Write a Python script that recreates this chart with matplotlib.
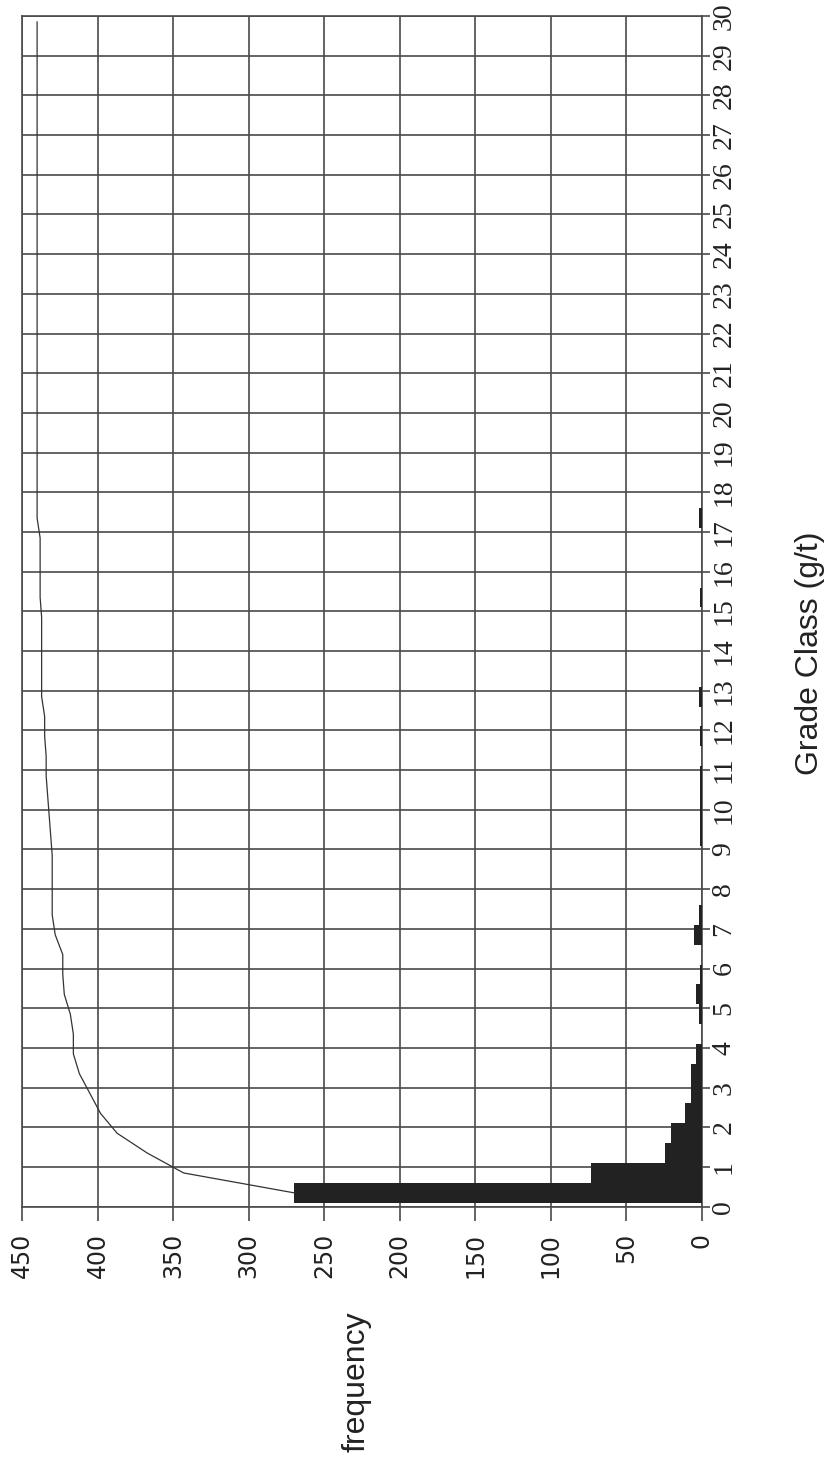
import matplotlib
matplotlib.use("Agg")
import matplotlib.pyplot as plt
import numpy as np

# grade classes are 0.5 g/t wide, starting at 0.1 g/t
bin_start = 0.1
bin_width = 0.5
counts = [270, 73, 24, 20, 11, 7, 7, 4, 0, 2,
          4, 1, 0, 5, 2, 0, 0, 0, 1, 1,
          1, 1, 0, 1, 0, 2, 0, 0, 0, 0,
          1, 0, 0, 0, 2, 0, 0, 0, 0, 0,
          0, 0, 0, 0, 0, 0, 0, 0, 0, 0,
          0, 0, 0, 0, 0, 0, 0, 0, 0, 0]
grade_ticks = list(range(0, 31))
freq_ticks = list(range(0, 451, 50))

GRID = "#4a4a4a"
BAR = "#222222"

edges = bin_start + bin_width * np.arange(len(counts))
centers = edges + bin_width / 2
cumulative = np.cumsum(counts)

fig = plt.figure(figsize=(8.31, 14.65), dpi=100)
ax = fig.add_axes([0.02647, 0.17632, 0.81792, 0.81276])

ax.barh(edges, counts, height=bin_width, align="edge", color=BAR,
        edgecolor="none", zorder=3)
ax.plot(cumulative, centers, color="#333333", lw=0.9, zorder=4, clip_on=True)

ax.set_xlim(450, 0)
ax.set_ylim(0, 30)
ax.set_xticks(freq_ticks)
ax.set_yticks(grade_ticks)
ax.grid(True, color=GRID, lw=1.2, zorder=0)
for s in ax.spines.values():
    s.set_color(GRID)
    s.set_linewidth(1.2)

ax.yaxis.tick_right()
ax.tick_params(axis="y", direction="out", length=6, width=1.2, color=GRID, pad=1)
ax.tick_params(axis="x", direction="out", length=10.3, width=1.2, color=GRID, pad=8.6)
ax.set_xticklabels([str(v) for v in freq_ticks], rotation=90,
                   fontsize=17, family="DejaVu Sans", color="#222222")
ax.set_yticklabels([str(v) for v in grade_ticks], rotation=90,
                   fontsize=20, family="Liberation Serif", color="#222222",
                   va="center")

fig.text(357 / 831, 1 - 1382 / 1465, "frequency", rotation=90,
         ha="center", va="center", fontsize=23, family="Liberation Sans",
         color="#222222")
fig.text(810 / 831, 1 - 653 / 1465, "Grade Class (g/t)", rotation=90,
         ha="center", va="center", fontsize=23, family="Liberation Sans",
         color="#222222")

fig.savefig("out.png", dpi=100)
